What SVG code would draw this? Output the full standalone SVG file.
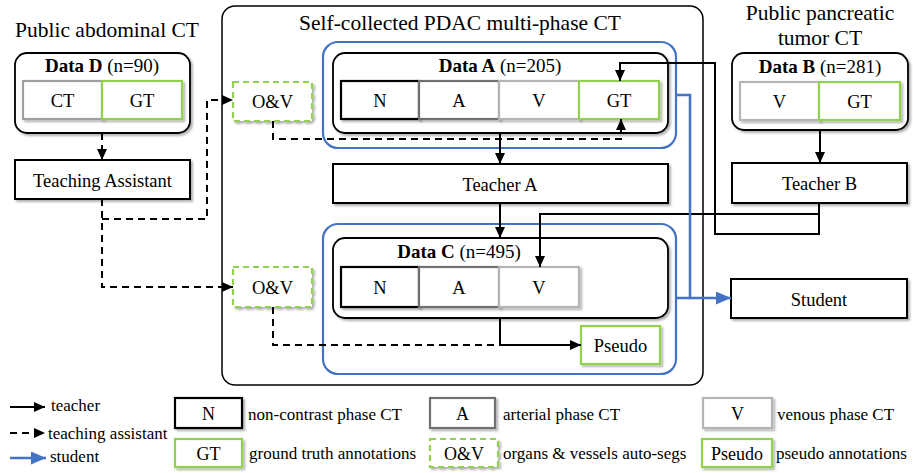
<svg xmlns="http://www.w3.org/2000/svg" width="913" height="473" viewBox="0 0 913 473" font-family="'Liberation Serif', 'Times New Roman', serif">
<defs>
  <filter id="sh" x="-10%" y="-10%" width="130%" height="140%">
    <feDropShadow dx="2" dy="2" stdDeviation="1.2" flood-color="#000" flood-opacity="0.3"/>
  </filter>
  <marker id="ah" markerUnits="userSpaceOnUse" markerWidth="11" markerHeight="10" refX="11" refY="5" orient="auto">
    <path d="M0,0 L11,5 L0,10 z" fill="#000"/>
  </marker>
  <marker id="bh" markerUnits="userSpaceOnUse" markerWidth="15" markerHeight="13" refX="15" refY="6.5" orient="auto">
    <path d="M0,0 L15,6.5 L0,13 z" fill="#4472c4"/>
  </marker>
  <style>
    text { font-family: 'Liberation Serif', 'Times New Roman', serif; fill: #000; }
    .t { font-size: 18.5px; text-anchor: middle; }
    .ti { font-size: 21.5px; text-anchor: middle; }
    .dl { font-size: 19px; text-anchor: middle; }
    .b { font-weight: bold; }
    .lg { font-size: 17px; }
    .lb { font-size: 18px; text-anchor: middle; }
    .box { fill: #fff; stroke: #000; stroke-width: 2; filter: url(#sh); }
    .grp { fill: #fff; stroke: #000; stroke-width: 1.8; filter: url(#sh); }
    .outer { fill: #fff; stroke: #000; stroke-width: 1.5; }
    .blue { fill: none; stroke: #4472c4; stroke-width: 2.2; }
    .cN { fill: #fff; stroke: #000; stroke-width: 2.2; filter: url(#sh); }
    .cA { fill: #fff; stroke: #707070; stroke-width: 2.2; filter: url(#sh); }
    .cV { fill: #fff; stroke: #b4b4b4; stroke-width: 2.2; filter: url(#sh); }
    .cG { fill: #fff; stroke: #92d050; stroke-width: 2.2; filter: url(#sh); }
    .cOV { fill: #fff; stroke: #92d050; stroke-width: 2.2; stroke-dasharray: 6 4; filter: url(#sh); }
    .ct { fill: none; stroke: #000; stroke-width: 2; }
    .ta { fill: none; stroke: #000; stroke-width: 2; stroke-dasharray: 7 5; }
    .st { fill: none; stroke: #4472c4; stroke-width: 2.5; }
  </style>
</defs>

<rect x="0" y="0" width="913" height="473" fill="#fff"/>

<!-- Outer self-collected container -->
<g id="self-collected">
  <rect class="outer" x="222" y="6" width="481" height="379" rx="13"/>
  <text class="ti" x="460" y="30" font-family="Liberation Serif, serif">Self-collected PDAC multi-phase CT</text>
</g>

<!-- Titles -->
<g id="title-public-abdominal">
  <text class="ti" x="107" y="37" font-family="Liberation Serif, serif">Public abdominal CT</text>
</g>
<g id="title-public-pancreatic">
  <text class="ti" x="820" y="20" font-family="Liberation Serif, serif">Public pancreatic</text>
  <text class="ti" x="820" y="45" font-family="Liberation Serif, serif">tumor CT</text>
</g>

<!-- Blue student-training boxes -->
<g id="blue-A"><rect class="blue" x="323" y="42" width="353" height="106" rx="15"/></g>
<g id="blue-C"><rect class="blue" x="323" y="224" width="353" height="150" rx="15"/></g>

<!-- Data D -->
<g id="data-D">
  <rect class="grp" x="15" y="53" width="175" height="80" rx="12"/>
  <text class="dl" x="102" y="72"><tspan class="b" font-weight="bold">Data D</tspan> (n=90)</text>
  <rect class="cV" x="23" y="81" width="79" height="38" style="stroke:#a0a0a0"/>
  <text class="t" x="62.5" y="107">CT</text>
  <rect class="cG" x="102" y="81" width="80" height="38"/>
  <text class="t" x="142" y="107">GT</text>
</g>

<g id="teaching-assistant">
  <rect class="box" x="15" y="160" width="175" height="39"/>
  <text class="t" x="102.5" y="186.5">Teaching Assistant</text>
</g>

<!-- O&V boxes -->
<g id="ov-upper">
  <rect class="cOV" x="233" y="82" width="79" height="39"/>
  <text class="t" x="272.5" y="107.5">O&amp;V</text>
</g>
<g id="ov-lower">
  <rect class="cOV" x="233" y="267" width="79" height="40"/>
  <text class="t" x="272.5" y="293.5">O&amp;V</text>
</g>

<!-- Data A -->
<g id="data-A">
  <rect class="grp" x="333" y="53" width="335" height="80" rx="12"/>
  <text class="dl" x="500" y="72"><tspan class="b" font-weight="bold">Data A</tspan> (n=205)</text>
  <rect class="cN" x="341" y="81" width="78" height="38"/>
  <text class="t" x="380" y="107">N</text>
  <rect class="cA" x="419" y="81" width="80" height="38"/>
  <text class="t" x="459" y="107">A</text>
  <rect class="cV" x="499" y="81" width="80" height="38"/>
  <text class="t" x="539" y="107">V</text>
  <rect class="cG" x="579" y="81" width="80" height="38"/>
  <text class="t" x="619" y="107">GT</text>
</g>

<g id="teacher-A">
  <rect class="box" x="333" y="164" width="335" height="39"/>
  <text class="t" x="500" y="190.5">Teacher A</text>
</g>

<!-- Data C -->
<g id="data-C">
  <rect class="grp" x="333" y="238" width="335" height="80" rx="12"/>
  <text class="dl" x="459" y="258"><tspan class="b" font-weight="bold">Data C</tspan> (n=495)</text>
  <rect class="cN" x="341" y="267" width="78" height="40"/>
  <text class="t" x="380" y="293.5">N</text>
  <rect class="cA" x="419" y="267" width="80" height="40"/>
  <text class="t" x="459" y="293.5">A</text>
  <rect class="cV" x="499" y="267" width="80" height="40"/>
  <text class="t" x="539" y="293.5">V</text>
</g>

<g id="pseudo">
  <rect class="cG" x="581" y="326" width="79" height="38"/>
  <text class="t" x="620.5" y="352">Pseudo</text>
</g>

<!-- Data B -->
<g id="data-B">
  <rect class="grp" x="732" y="53" width="176" height="77" rx="12"/>
  <text class="dl" x="820" y="73"><tspan class="b" font-weight="bold">Data B</tspan> (n=281)</text>
  <rect class="cV" x="740" y="82" width="79" height="38"/>
  <text class="t" x="779.5" y="108">V</text>
  <rect class="cG" x="819" y="82" width="81" height="38"/>
  <text class="t" x="859.5" y="108">GT</text>
</g>

<g id="teacher-B">
  <rect class="box" x="732" y="163" width="175" height="40"/>
  <text class="t" x="819.5" y="190">Teacher B</text>
</g>

<g id="student">
  <rect class="box" x="731" y="279" width="176" height="39"/>
  <text class="t" x="819" y="305.5">Student</text>
</g>

<!-- Connectors -->
<g id="connectors">
  <!-- teacher (solid) -->
  <path class="ct" d="M500,133 V164" marker-end="url(#ah)"/>
  <path class="ct" d="M500,203 V238" marker-end="url(#ah)"/>
  <path class="ct" d="M500,318 V345 H581" marker-end="url(#ah)"/>
  <path class="ct" d="M820,130 V163" marker-end="url(#ah)"/>
  <path class="ct" d="M819,203 V214 H540 V267" marker-end="url(#ah)"/>
  <path class="ct" d="M819,203 V234 H715 V63 H620 V81" marker-end="url(#ah)"/>
  <!-- teaching assistant (dashed) -->
  <path class="ta" d="M102,133 V160" marker-end="url(#ah)"/>
  <path class="ta" d="M102,199 V287 H233" marker-end="url(#ah)"/>
  <path class="ta" d="M102,219 H207 V100 H233" marker-end="url(#ah)"/>
  <path class="ta" d="M273,121 V139 H621 V119" marker-end="url(#ah)"/>
  <path class="ta" d="M273,307 V345 H500"/>
  <!-- student (blue) -->
  <path class="st" d="M676,95 H690 V298 H731" marker-end="url(#bh)"/>
  <path class="st" d="M676,298 H690"/>
</g>

<!-- Legend -->
<g id="legend">
  <path class="ct" d="M10,407 H45" marker-end="url(#ah)"/>
  <text class="lg" x="51" y="411">teacher</text>
  <path class="ta" d="M10,433 H45" marker-end="url(#ah)"/>
  <text class="lg" x="48" y="439">teaching assistant</text>
  <path class="st" d="M10,458 H46" stroke-width="3" marker-end="url(#bh)"/>
  <text class="lg" x="50" y="462">student</text>

  <rect class="cN" x="175" y="398" width="67" height="30"/>
  <text class="lb" x="208.5" y="419.5">N</text>
  <text class="lg" x="248" y="420">non-contrast phase CT</text>

  <rect class="cG" x="175" y="439" width="67" height="28"/>
  <text class="lb" x="208.5" y="459.5">GT</text>
  <text class="lg" x="249" y="459">ground truth annotations</text>

  <rect class="cA" x="430" y="398" width="65" height="30"/>
  <text class="lb" x="462.5" y="419.5">A</text>
  <text class="lg" x="503" y="420">arterial phase CT</text>

  <rect class="cOV" x="430" y="439" width="68" height="28"/>
  <text class="lb" x="464" y="459.5">O&amp;V</text>
  <text class="lg" x="503" y="459">organs &amp; vessels auto-segs</text>

  <rect class="cV" x="703" y="398" width="69" height="30"/>
  <text class="lb" x="737.5" y="419.5">V</text>
  <text class="lg" x="777" y="420">venous phase CT</text>

  <rect class="cG" x="702" y="439" width="70" height="28"/>
  <text class="lb" x="737" y="459.5">Pseudo</text>
  <text class="lg" x="776" y="459">pseudo annotations</text>
</g>
</svg>
